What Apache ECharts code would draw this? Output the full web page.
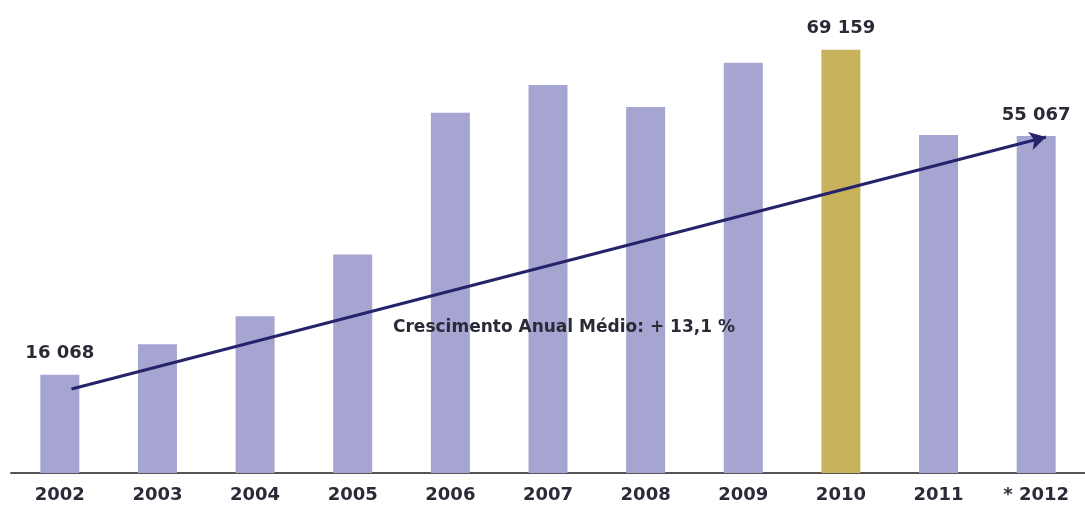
<!DOCTYPE html>
<html>
<head>
<meta charset="utf-8">
<script src="https://cdn.jsdelivr.net/npm/echarts@6/dist/echarts.min.js"></script>
<style>
	html, body { margin: 0; padding: 0; background: #fff; }
	#chart { width: 1085px; height: 510px; }
</style>
</head>
<body>
<div id="chart"></div>
<script>
var years = ['2002', '2003', '2004', '2005', '2006', '2007', '2008', '2009', '2010', '2011', '* 2012'];
var values = [16068, 21030, 25600, 35700, 58840, 63400, 59800, 67000, 69159, 55200, 55067];
// only these bars carry a number on top
var shownLabels = { 0: '16 068', 8: '69 159', 10: '55 067' };
var highlightIndex = 8;
// trend arrow ends: [category position, value]
var trendStart = [0.12, 13730];
var trendEnd = [10.1, 54900];
var trendText = 'Crescimento Anual Médio: + 13,1 %';

var textFont = 'DejaVu Sans';

function buildBars() {
	var out = [];
	for (var i = 0; i < values.length; i++) {
		var item = { value: values[i] };
		if (i == highlightIndex) {
			item.itemStyle = { color: '#c8b25c' };
		}
		if (shownLabels[i]) {
			item.label = {
				show: true,
				position: 'top',
				distance: 12,
				formatter: shownLabels[i],
				color: '#2b2b38',
				fontSize: 18,
				fontWeight: 'bold',
				fontFamily: textFont
			};
		}
		out.push(item);
	}
	return out;
}

var myChart = echarts.init(document.getElementById('chart'));
var option = {
	animation: false,
	grid: { left: 11, top: 20, bottom: 37, width: 1086, containLabel: false },
	xAxis: [{
		type: 'category',
		data: years,
		axisLine: { lineStyle: { color: '#555', width: 2 } },
		axisTick: { show: false },
		axisLabel: { color: '#2b2b38', fontSize: 18, fontWeight: 'bold', fontFamily: textFont, margin: 13 }
	}, {
		type: 'value',
		min: -0.5,
		max: 10.5,
		show: false
	}],
	yAxis: {
		type: 'value',
		min: 0,
		max: 74000,
		show: false,
		splitLine: { show: false }
	},
	graphic: [{
		type: 'text',
		left: 393,
		top: 319,
		z: 100,
		style: {
			text: trendText,
			fill: '#2b2b38',
			fontSize: 17,
			fontWeight: 'bold',
			fontFamily: textFont
		}
	}],
	series: [{
		type: 'bar',
		data: buildBars(),
		barWidth: 39,
		itemStyle: { color: '#a6a5d2' }
	}, {
		type: 'line',
		xAxisIndex: 1,
		data: [],
		silent: true,
		markLine: {
			silent: true,
			symbol: ['none', 'arrow'],
			symbolSize: [14, 16],
			label: { show: false },
			lineStyle: { color: '#25246a', width: 3, type: 'solid' },
			data: [[{ coord: trendStart }, { coord: trendEnd }]]
		}
	}]
};
myChart.setOption(option);
</script>
</body>
</html>
